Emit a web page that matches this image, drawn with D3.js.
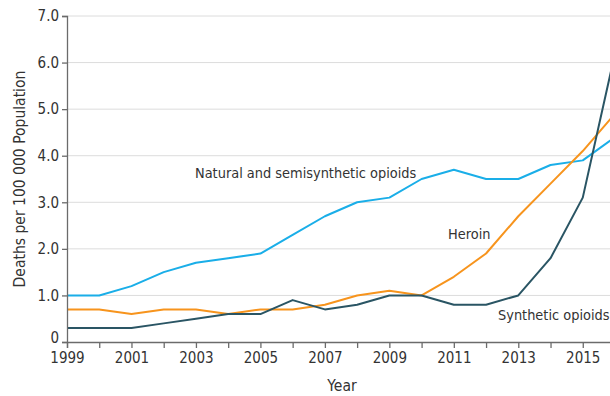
<!DOCTYPE html>
<html>
<head>
<meta charset="utf-8">
<script src="https://d3js.org/d3.v7.min.js"></script>
<style>
  body { margin: 0; background: #fff; }
  svg { display: block; font-family: "DejaVu Sans Condensed", "DejaVu Sans", sans-serif; }
</style>
</head>
<body>
<script>
// years and death rates per 100 000
var years = [1999, 2000, 2001, 2002, 2003, 2004, 2005, 2006, 2007, 2008, 2009, 2010, 2011, 2012, 2013, 2014, 2015, 2016];
var natural = [1.0, 1.0, 1.2, 1.5, 1.7, 1.8, 1.9, 2.3, 2.7, 3.0, 3.1, 3.5, 3.7, 3.5, 3.5, 3.8, 3.9, 4.4];
var heroin = [0.7, 0.7, 0.6, 0.7, 0.7, 0.6, 0.7, 0.7, 0.8, 1.0, 1.1, 1.0, 1.4, 1.9, 2.7, 3.4, 4.1, 4.9];
var synthetic = [0.3, 0.3, 0.3, 0.4, 0.5, 0.6, 0.6, 0.9, 0.7, 0.8, 1.0, 1.0, 0.8, 0.8, 1.0, 1.8, 3.1, 6.2];
var yTicks = [0, 1, 2, 3, 4, 5, 6, 7];
var xTicks = [1999, 2001, 2003, 2005, 2007, 2009, 2011, 2013, 2015];

var series = [
  {name: "Natural and semisynthetic opioids", values: natural, color: "#1aaee8", lx: 195, ly: 178},
  {name: "Heroin", values: heroin, color: "#f7941d", lx: 448, ly: 239},
  {name: "Synthetic opioids", values: synthetic, color: "#2a5564", lx: 498, ly: 320}
];

var margin = {top: 16, left: 67},
    width = 548,   // runs to 2016, past the right edge of the picture
    height = 326;

var svg = d3.select("body").append("svg")
  .attr("width", 610)
  .attr("height", 396);

var g = svg.append("g")
  .attr("transform", "translate(" + margin.left + "," + margin.top + ")");

var x = d3.scaleLinear().domain([1999, 2016]).range([0, width]);
var y = d3.scaleLinear().domain([0, 7]).range([height, 0]);

// grid
g.selectAll(".grid")
  .data(yTicks.slice(1))
  .enter().append("line")
  .attr("x1", 0).attr("x2", width)
  .attr("y1", d => y(d)).attr("y2", d => y(d))
  .attr("stroke", "#dcdcdc").attr("stroke-width", 1);

var line = d3.line()
  .x((d, i) => x(years[i]))
  .y(d => y(d));

series.forEach(s => {
  g.append("path")
    .datum(s.values)
    .attr("fill", "none")
    .attr("stroke", s.color)
    .attr("stroke-width", 2)
    .attr("stroke-linejoin", "round")
    .attr("d", line);
});

// axes
var yAxis = g.append("g")
  .call(d3.axisLeft(y).tickValues(yTicks).tickSize(5).tickPadding(3)
    .tickFormat(d => d === 0 ? "0" : d3.format(".1f")(d)));
var xAxis = g.append("g")
  .attr("transform", "translate(0," + height + ")")
  .call(d3.axisBottom(x).tickValues(years).tickSize(6).tickPadding(4)
    .tickFormat(d => xTicks.indexOf(d) >= 0 ? d : ""));

[yAxis, xAxis].forEach(a => {
  a.select(".domain").attr("stroke", "#6b6b6b").attr("stroke-width", 1.3);
  a.selectAll(".tick line").attr("stroke", "#6b6b6b").attr("stroke-width", 1.3);
  a.selectAll("text").attr("fill", "#333").style("font-size", "15px")
    .style("font-family", "'DejaVu Sans Condensed', sans-serif");
});
// lift the zero label a touch so it clears 1999
yAxis.selectAll(".tick text").filter(d => d === 0).attr("dy", "0.05em");

// series labels
series.forEach(s => {
  svg.append("text")
    .attr("x", s.lx).attr("y", s.ly)
    .attr("fill", "#333").style("font-size", "14.4px")
    .text(s.name);
});

svg.append("text")
  .attr("x", 342).attr("y", 391)
  .attr("text-anchor", "middle")
  .attr("fill", "#333").style("font-size", "15.5px")
  .text("Year");

svg.append("text")
  .attr("transform", "translate(25,179) rotate(-90)")
  .attr("text-anchor", "middle")
  .attr("fill", "#333").style("font-size", "15.5px")
  .text("Deaths per 100 000 Population");
</script>
</body>
</html>
